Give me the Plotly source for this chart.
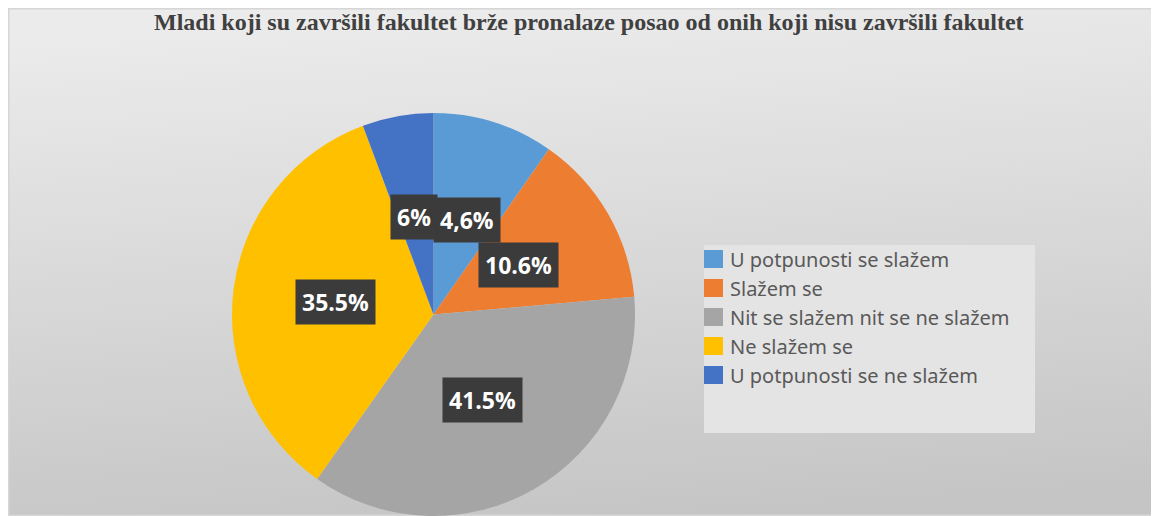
import base64, math
import plotly.graph_objects as go

OFF = 8                      # page body margin of the html page
W, H = 1159 - OFF, 516 - OFF  # figure size

categories = ["U potpunosti se slažem", "Slažem se", "Nit se slažem nit se ne slažem",
              "Ne slažem se", "U potpunosti se ne slažem"]
values = [9.7, 13.9, 36.2, 34.5, 5.7]          # slice sizes as drawn
labels = ["4,6%", "10.6%", "41.5%", "35.5%", "6%"]  # data labels as printed
colors = ["#5B9BD5", "#ED7D31", "#A5A5A5", "#FFC000", "#4472C4"]
title = "Mladi koji su završili fakultet brže pronalaze posao od onih koji nisu završili fakultet"

def px(x):
    return (x - OFF) / W

def py(y):
    return 1 - (y - OFF) / H

# pie geometry (page pixels)
cx, cy, R = 433.5, 314.5, 201.5
# small horizontal nudges so the two crowded labels do not overlap
nudge = [4, 0, 0, 0, -2]

fig = go.Figure()
fig.add_trace(go.Pie(
    labels=categories, values=values, sort=False, direction="clockwise", rotation=0,
    marker=dict(colors=colors, line=dict(width=0)),
    textinfo="none", hoverinfo="label+percent", showlegend=False,
    domain=dict(x=[px(cx - R), px(cx + R)], y=[max(0, py(cy + R)), py(cy - R)]),
))

annotations = []
shapes = []

# data labels at mid-angle of each slice
total = sum(values)
cum = 0.0
for v, lab, dx in zip(values, labels, nudge):
    mid = (cum + v / 2) / total * 2 * math.pi
    cum += v
    r = 0.49 * R
    lx = cx + r * math.sin(mid)
    ly = cy - r * math.cos(mid)
    annotations.append(dict(
        x=px(lx), y=py(ly), xref="paper", yref="paper", text=f"<b>{lab}</b>",
        showarrow=False, font=dict(family="Open Sans", size=23, color="white"),
        bgcolor="#3b3b3b", borderpad=6, xanchor="center", yanchor="middle", xshift=dx))

# title
annotations.append(dict(
    x=px(589), y=py(22), xref="paper", yref="paper", text=f"<b>{title}</b>",
    showarrow=False, font=dict(family="Liberation Serif", size=24, color="#404040"),
    xanchor="center", yanchor="middle"))

# legend box
shapes.append(dict(type="rect", xref="paper", yref="paper", x0=px(704), x1=px(1035),
                   y0=py(433), y1=py(245), fillcolor="#e4e4e4", line=dict(width=0),
                   layer="below"))
for i, (cat, col) in enumerate(zip(categories, colors)):
    yc = 259 + 29 * i
    shapes.append(dict(type="rect", xref="paper", yref="paper", x0=px(704), x1=px(723),
                       y0=py(yc + 9), y1=py(yc - 9), fillcolor=col, line=dict(width=0)))
    annotations.append(dict(
        x=px(728), y=py(yc), xref="paper", yref="paper", text=cat, showarrow=False,
        font=dict(family="Noto Sans", size=20, color="#595959"),
        xanchor="left", yanchor="middle"))

# gradient chart background
svg = f"""<svg xmlns='http://www.w3.org/2000/svg' width='{W}' height='{H}' viewBox='0 0 {W} {H}'>
<defs><linearGradient id='g' x1='0.45' y1='0' x2='0.6' y2='1'>
<stop offset='0' stop-color='#ebebeb'/><stop offset='1' stop-color='#c5c5c5'/></linearGradient></defs>
<rect x='0' y='0' width='{W}' height='{H}' fill='url(#g)'/>
<rect x='0.5' y='0.5' width='{W-1}' height='{H-1}' fill='none' stroke='#d6d6d6' stroke-width='2'/>
</svg>"""
src = "data:image/svg+xml;base64," + base64.b64encode(svg.encode()).decode()

fig.update_layout(
    width=W, height=H, margin=dict(l=0, r=0, t=0, b=0),
    paper_bgcolor="white", plot_bgcolor="rgba(0,0,0,0)",
    images=[dict(source=src, xref="paper", yref="paper", x=0, y=1,
                 sizex=1, sizey=1, sizing="stretch",
                 xanchor="left", yanchor="top", layer="below")],
    annotations=annotations, shapes=shapes, showlegend=False,
)
fig.write_html("out.html")
